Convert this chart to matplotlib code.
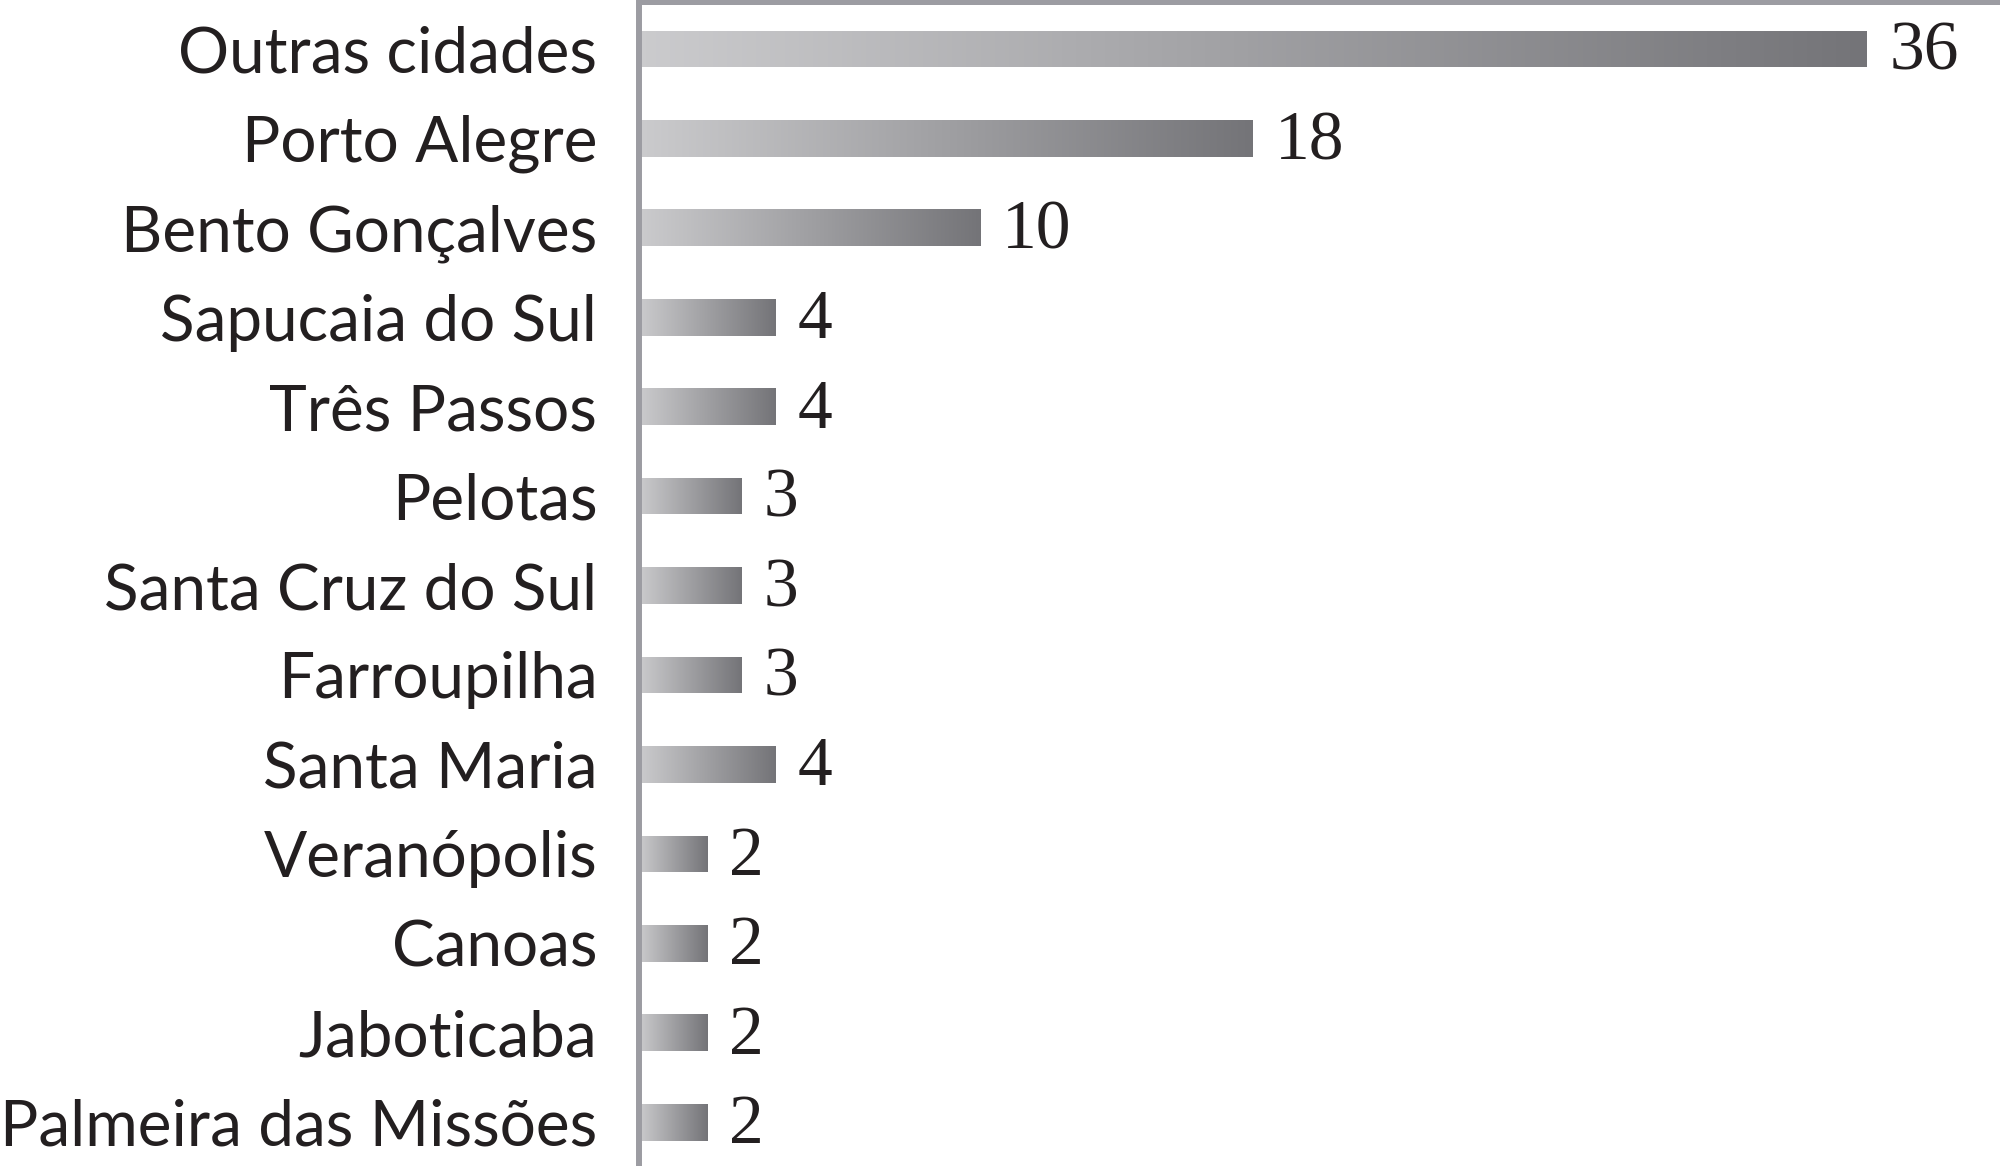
import numpy as np
import matplotlib
matplotlib.use("Agg")
import matplotlib.pyplot as plt
from matplotlib.colors import LinearSegmentedColormap

cidades = ["Outras cidades", "Porto Alegre", "Bento Gonçalves", "Sapucaia do Sul",
           "Três Passos", "Pelotas", "Santa Cruz do Sul", "Farroupilha",
           "Santa Maria", "Veranópolis", "Canoas", "Jaboticaba",
           "Palmeira das Missões"]
valores = [36, 18, 10, 4, 4, 3, 3, 3, 4, 2, 2, 2, 2]

grad = LinearSegmentedColormap.from_list("g", ["#cbcbcd", "#747478"])
gray_line = "#9c9ca2"

fig = plt.figure(figsize=(20, 11.66), dpi=100)
ax = fig.add_axes([0.3195, 0.0, 0.6805, 0.998])

pos = np.arange(len(cidades))
bars = ax.barh(pos, valores, height=0.41, color="none", edgecolor="none")

# gradient fill, light at the base, dark at the tip
ramp = np.linspace(0, 1, 256).reshape(1, -1)
for b in bars:
    x0, y0 = b.get_x(), b.get_y()
    w, h = b.get_width(), b.get_height()
    im = ax.imshow(ramp, cmap=grad, aspect="auto", extent=(x0, x0 + w, y0 + h, y0),
                   interpolation="bilinear", zorder=2)
    im.set_clip_path(b)

for p, v in zip(pos, valores):
    ax.annotate(str(v), (v, p), xytext=(16, -3), textcoords="offset points",
                va="center", ha="left", fontsize=50, family="Liberation Serif",
                color="#231f20")

ax.set_xlim(0, 39.9)
ax.set_ylim(12.49, -0.52)
ax.set_yticks(pos)
ax.set_yticklabels(cidades, fontsize=46, family="Lato", color="#231f20")
ax.tick_params(axis="y", length=0, pad=30)
ax.set_xticks([])

for s in ["right", "bottom"]:
    ax.spines[s].set_visible(False)
ax.spines["left"].set_color(gray_line)
ax.spines["left"].set_linewidth(4.3)
ax.spines["top"].set_color(gray_line)
ax.spines["top"].set_linewidth(3.6)

fig.savefig("out.png", dpi=100)
